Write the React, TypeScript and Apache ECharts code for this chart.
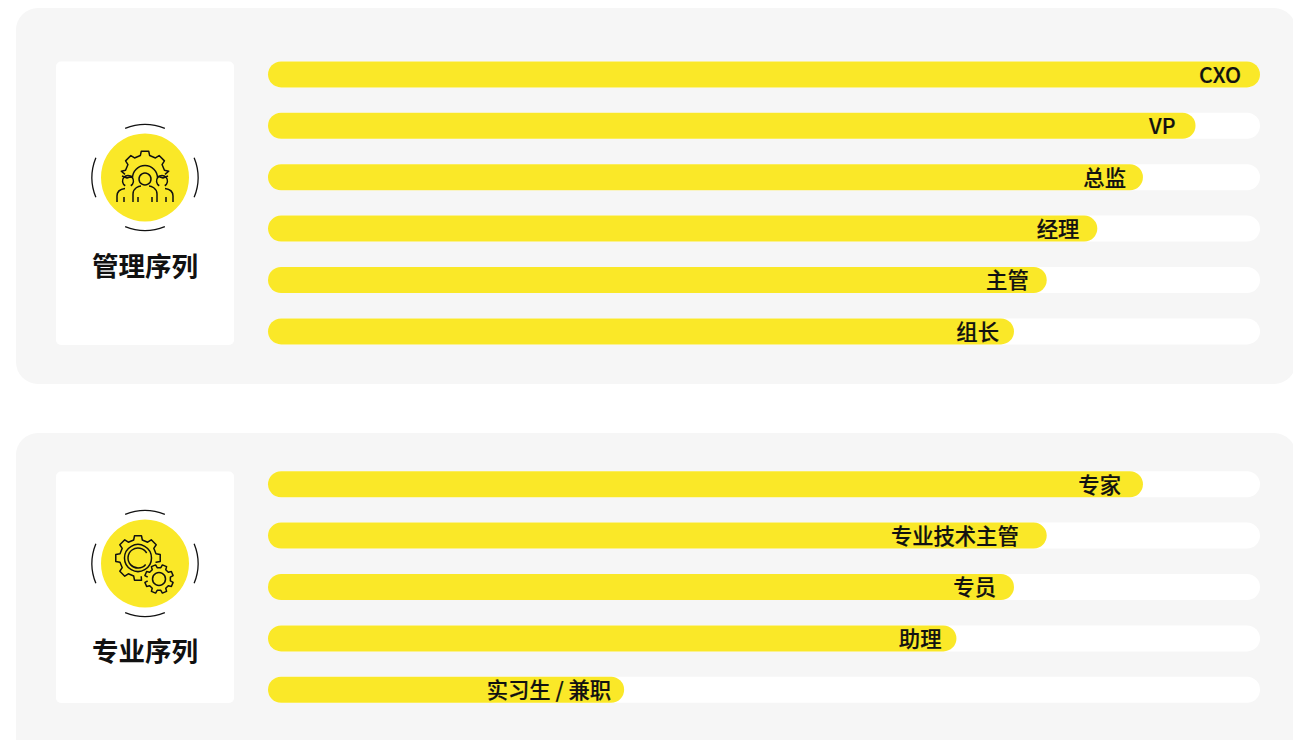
import React, { useEffect, useRef } from "react";
import * as echarts from "echarts";

const managementRoles = ["CXO", "VP", "总监", "经理", "主管", "组长"];
const managementLevels = [100, 93.5, 88.2, 83.6, 78.5, 75.2];
const managementLabelGaps = [19, 20, 17, 18, 18, 15];

const specialistRoles = ["专家", "专业技术主管", "专员", "助理", "实习生 / 兼职"];
const specialistLevels = [88.2, 78.5, 75.2, 69.4, 35.9];
const specialistLabelGaps = [22, 28, 18, 15, 13];

const managementTitle = "管理序列";
const specialistTitle = "专业序列";

const YELLOW = "#fae828";
const PANEL = "#f6f6f6";
const INK = "#111111";
const FONT = '"Noto Sans CJK SC", "Noto Sans", sans-serif';

const rad = (deg: number) => (deg * Math.PI) / 180;

// Outline of a toothed wheel between two angles (degrees, clockwise on screen).
function gearOutline(
  cx: number,
  cy: number,
  outer: number,
  inner: number,
  teeth: number,
  from: number,
  to: number,
  phase = 0
) {
  const pitch = 360 / teeth;
  const tip = pitch * 0.2;
  const base = pitch * 0.3;
  const pts: [number, number][] = [];
  const add = (r: number, a: number) => {
    if (a >= from && a <= to) pts.push([cx + r * Math.cos(rad(a)), cy + r * Math.sin(rad(a))]);
  };
  add(inner, from);
  for (let a = Math.ceil((from - phase) / pitch) * pitch + phase - pitch; a <= to + pitch; a += pitch) {
    add(inner, a - base);
    add(outer, a - tip);
    add(outer, a + tip);
    add(inner, a + base);
  }
  add(inner, to);
  return pts.map((p, i) => `${i ? "L" : "M"}${p[0].toFixed(2)} ${p[1].toFixed(2)}`).join(" ");
}

const arcD = (cx: number, cy: number, r: number, a0: number, a1: number) => {
  const x0 = cx + r * Math.cos(rad(a0));
  const y0 = cy + r * Math.sin(rad(a0));
  const x1 = cx + r * Math.cos(rad(a1));
  const y1 = cy + r * Math.sin(rad(a1));
  const large = Math.abs(a1 - a0) > 180 ? 1 : 0;
  return `M${x0.toFixed(2)} ${y0.toFixed(2)} A${r} ${r} 0 ${large} 1 ${x1.toFixed(2)} ${y1.toFixed(2)}`;
};

// Person bust: head circle plus open shoulders, origin at the head centre.
const person = (x: number, y: number, hr: number, halfW: number, bottom: number) =>
  [
    arcD(x, y, hr, 0, 359.9),
    `M${x - halfW} ${y + bottom} L${x - halfW} ${y + bottom - 8} C${x - halfW} ${y + hr + 3} ${x - hr} ${y + hr + 1} ${x - hr + 2} ${y + hr + 1}`,
    `M${x + hr - 2} ${y + hr + 1} C${x + hr} ${y + hr + 1} ${x + halfW} ${y + hr + 3} ${x + halfW} ${y + bottom - 8} L${x + halfW} ${y + bottom}`,
  ].join(" ");

const teamIconD = [
  gearOutline(145, 175, 24, 20, 8, 182, 358, 270),
  arcD(145, 178, 12.5, 180, 360),
  person(145, 179, 6, 12, 23),
  arcD(128, 181, 5.5, 120, 420),
  "M117 202 L117 196 C117 191 121 189 125 188.5",
  "M165 188.5 C169 189 173 191 173 196 L173 202",
  arcD(162, 181, 5.5, 120, 420),
  "M122 176 L127 178 L133 176",
  "M157 176 L163 178 L168 176",
  "M124 197 L124 202 M166 197 L166 202 M138 197 L138 202 M152 197 L152 202",
].join(" ");

const gearsIconD = [
  gearOutline(138, 558, 22.5, 18.5, 8, 80, 375, 0),
  arcD(138, 558, 13.5, 0, 359.9),
  arcD(138, 558, 10, 40, 330),
  gearOutline(159, 579, 14.5, 11.5, 8, -170, 170, 22.5),
  arcD(159, 579, 6.5, 0, 359.9),
].join(" ");

echarts.graphic.registerShape("teamIcon", echarts.graphic.extendPath(teamIconD, {}));
echarts.graphic.registerShape("gearsIcon", echarts.graphic.extendPath(gearsIconD, {}));

function ringArcs(cx: number, cy: number) {
  const spread = rad(22);
  const centres = [-90, 90, 0, 180].map(rad);
  return centres.map((c) => ({
    type: "arc",
    z: 1,
    shape: { cx, cy, r: 53, startAngle: c - spread, endAngle: c + spread },
    style: { stroke: INK, fill: "none", lineWidth: 1.3 },
  }));
}

function badge(cx: number, cy: number, icon: string, title: string, titleY: number) {
  return [
    { type: "circle", z: 1, shape: { cx, cy, r: 44 }, style: { fill: YELLOW } },
    ...ringArcs(cx, cy),
    { type: icon, z: 2, x: 0, y: 0, style: { fill: "none", stroke: INK, lineWidth: 1.5, lineJoin: "round" } },
    {
      type: "text",
      z: 2,
      x: cx,
      y: titleY,
      style: {
        text: title,
        fill: INK,
        font: `700 26.5px ${FONT}`,
        textAlign: "center",
        textVerticalAlign: "middle",
      },
    },
  ];
}

function panel(y: number, height: number, cardY: number, cardH: number) {
  return [
    { type: "rect", z: 0, shape: { x: 16, y, width: 1280, height, r: 22 }, style: { fill: PANEL } },
    { type: "rect", z: 1, shape: { x: 56, y: cardY, width: 178, height: cardH, r: 5 }, style: { fill: "#ffffff" } },
  ];
}

function barSeries(index: number, values: number[], gaps: number[]) {
  return {
    type: "bar",
    xAxisIndex: index,
    yAxisIndex: index,
    barWidth: 26,
    showBackground: true,
    backgroundStyle: { color: "#ffffff", borderRadius: 13 },
    itemStyle: { color: YELLOW, borderRadius: 13 },
    data: values.map((value, i) => ({
      value,
      label: {
        show: true,
        position: "insideRight",
        distance: gaps[i],
        offset: [0, -1.2],
        formatter: "{b}",
        color: INK,
        fontFamily: FONT,
        fontSize: 21.3,
        fontWeight: 500,
        textBorderColor: INK,
        textBorderWidth: 0.2,
      },
    })),
  };
}

const categoryAxis = (gridIndex: number, data: string[]) => ({
  type: "category",
  gridIndex,
  inverse: true,
  data,
  axisLine: { show: false },
  axisTick: { show: false },
  axisLabel: { show: false },
});

const valueAxis = (gridIndex: number) => ({
  type: "value",
  gridIndex,
  min: 0,
  max: 100,
  axisLine: { show: false },
  axisTick: { show: false },
  axisLabel: { show: false },
  splitLine: { show: false },
});

export default function App() {
  const ref = useRef<HTMLDivElement>(null);

  useEffect(() => {
    document.body.style.margin = "0";
    const chart = echarts.init(ref.current!, undefined, { renderer: "svg" });
    chart.setOption({
      animation: false,
      backgroundColor: "#ffffff",
      grid: [
        { left: 268, width: 992, top: 48.7, height: 308.4 },
        { left: 268, width: 992, top: 458.5, height: 257 },
      ],
      xAxis: [valueAxis(0), valueAxis(1)],
      yAxis: [categoryAxis(0, managementRoles), categoryAxis(1, specialistRoles)],
      series: [
        barSeries(0, managementLevels, managementLabelGaps),
        barSeries(1, specialistLevels, specialistLabelGaps),
      ],
      graphic: {
        elements: [
          ...panel(8, 376, 61.5, 283.5),
          ...panel(433, 340, 471.5, 231.5),
          ...badge(145, 177.5, "teamIcon", managementTitle, 264.5),
          ...badge(145, 563.5, "gearsIcon", specialistTitle, 649.5),
        ],
      },
    });
    return () => chart.dispose();
  }, []);

  return <div ref={ref} style={{ width: 1293, height: 740 }} />;
}
